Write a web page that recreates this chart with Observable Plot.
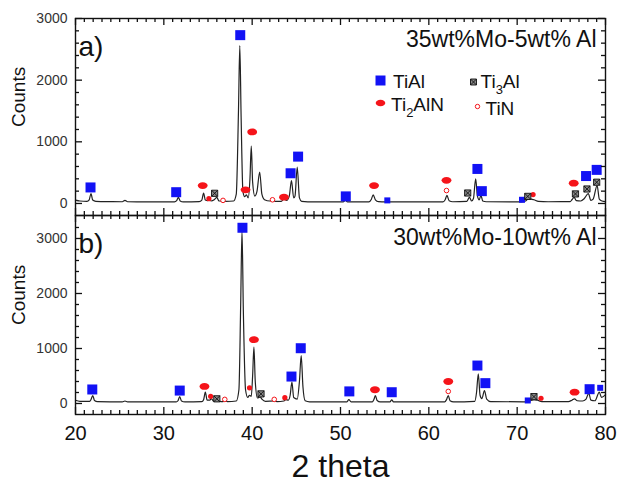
<!DOCTYPE html>
<html><head><meta charset="utf-8">
<script src="https://cdn.jsdelivr.net/npm/d3@7"></script>
<script src="https://cdn.jsdelivr.net/npm/@observablehq/plot@0.6"></script>
<style>
body{margin:0;background:#fff;font-family:"Liberation Sans",Arial,sans-serif}
#wrap{position:relative;width:618px;height:482px;overflow:hidden;background:#fff}
#wrap > svg{position:absolute;left:0}
</style></head><body><div id="wrap"></div>
<script>
// ---------- data ----------
const xMajor = [20, 30, 40, 50, 60, 70, 80];
const yMajor = [0, 1000, 2000, 3000];
const xMinor = [21,22,23,24,25,26,27,28,29,31,32,33,34,35,36,37,38,39,41,42,43,44,45,46,47,48,49,51,52,53,54,55,56,57,58,59,61,62,63,64,65,66,67,68,69,71,72,73,74,75,76,77,78,79];
const yMinorA = [200,400,600,800,1200,1400,1600,1800,2200,2400,2600,2800];
const yMinorB = [200,400,600,800,1200,1400,1600,1800,2200,2400,2600,2800,3200];

const legendNames = ["TiAl", "Ti3Al", "Ti2AlN", "TiN"];
const titleA = "35wt%Mo-5wt% Al";
const titleB = "30wt%Mo-10wt% Al";

// panel a) diffractogram
const curveA_x = [20.0,20.5,21.3,21.55,21.75,21.95,22.3,24,25.3,25.6,25.9,28,31.2,31.45,31.65,31.85,32.2,34.0,34.3,34.5,34.7,34.95,35.15,35.35,35.7,36.0,36.25,36.6,36.8,37.0,37.9,38.2,38.45,38.6,38.75,38.95,39.15,39.35,39.55,39.75,39.9,40.05,40.3,40.55,40.85,41.1,41.4,42.0,42.3,42.6,43.3,43.6,43.9,44.2,44.45,44.7,44.85,45.1,45.35,45.6,47,50.3,50.55,50.8,53.2,53.5,53.7,53.95,54.3,55.1,55.35,55.6,61.6,61.85,62.05,62.3,62.7,64.3,64.6,64.85,65.05,65.3,65.5,65.7,65.9,66.1,66.5,70.5,71.0,71.3,71.6,71.9,72.4,73.5,76.0,76.2,76.45,76.7,77.2,77.6,78.05,78.35,78.6,79.05,79.3,79.6,80];
const curveA_y = [55,40,35,60,160,55,35,30,28,50,28,25,25,45,100,40,25,30,55,170,55,45,80,40,60,100,40,40,55,35,40,150,1500,2560,1400,200,110,140,90,400,930,350,120,200,510,150,60,40,55,35,35,70,50,120,370,90,120,590,90,35,25,25,55,25,25,70,140,60,30,25,40,25,25,60,130,45,28,35,100,40,80,400,120,60,130,40,28,25,45,80,70,60,35,28,30,60,100,45,40,80,160,50,70,290,70,40,30];

// panel b) diffractogram
const curveB_x = [20.0,20.5,21.6,21.75,21.95,22.15,22.5,25.3,25.6,25.9,31.4,31.6,31.8,32.0,32.4,34.3,34.5,34.7,34.9,35.2,35.4,35.6,35.9,36.1,36.3,36.7,36.95,37.2,38.2,38.5,38.7,38.85,39.0,39.25,39.5,39.7,39.9,40.05,40.2,40.35,40.6,40.9,41.1,41.5,42.5,42.8,43.6,43.8,44.1,44.3,44.5,44.7,45.1,45.35,45.55,45.75,46.0,46.5,50.7,50.95,51.2,53.6,53.8,53.95,54.15,54.5,55.6,55.8,56.0,61.8,62.0,62.2,62.4,62.8,65.2,65.4,65.6,65.8,66.0,66.3,66.55,67.0,71.0,71.5,71.9,72.3,72.8,75.8,76.2,76.5,76.8,77.4,77.8,78.1,78.35,78.8,79.3,79.55,80];
const curveB_y = [60,40,40,70,145,55,35,30,45,30,28,50,125,45,28,35,70,205,60,60,90,45,60,80,40,35,50,35,45,250,1800,3145,1700,250,110,150,130,500,1025,400,100,120,80,40,45,35,45,70,60,150,390,110,80,400,870,300,50,30,28,70,30,30,80,145,55,30,30,65,30,30,70,145,50,30,40,200,540,150,90,235,80,35,30,50,70,60,35,35,60,85,50,45,80,190,60,50,205,110,160];

// phase markers, panel a)
const tiAlA_x = [21.7, 31.4, 38.65, 44.35, 45.2, 50.6, 65.5, 66.0, 77.8, 79.0];
const tiAlA_y = [260, 183, 2730, 490, 760, 115, 560, 200, 445, 545];
const tiAlSmallA_x = [55.3, 70.55];
const tiAlSmallA_y = [50, 60];
const ti2AlNA_x = [34.4, 39.25, 40.0, 43.6, 53.8, 62.0, 76.4];
const ti2AlNA_y = [290, 222, 1160, 102, 290, 375, 330];
const ti2AlNSmallA_x = [35.1, 71.8];
const ti2AlNSmallA_y = [78, 145];
const ti3AlA_x = [35.75, 64.4, 71.2, 76.6, 77.9, 79.0];
const ti3AlA_y = [165, 170, 115, 155, 235, 345];
const tiNA_x = [36.7, 42.3, 62.0];
const tiNA_y = [50, 60, 210];

// phase markers, panel b)
const tiAlB_x = [21.9, 31.8, 38.9, 44.45, 45.5, 51.0, 55.8, 65.5, 66.4, 78.2];
const tiAlB_y = [255, 235, 3195, 490, 1005, 220, 205, 690, 370, 260];
const tiAlSmallB_x = [71.2, 79.4];
const tiAlSmallB_y = [55, 285];
const ti2AlNB_x = [34.6, 40.2, 53.9, 62.2, 76.5];
const ti2AlNB_y = [310, 1160, 250, 400, 205];
const ti2AlNSmallB_x = [35.3, 39.7, 43.7, 72.7];
const ti2AlNSmallB_y = [130, 285, 105, 95];
const ti3AlB_x = [36.0, 41.0, 71.9];
const ti3AlB_y = [85, 175, 125];
const tiNB_x = [36.9, 42.5, 62.2];
const tiNB_y = [75, 75, 220];

// ---------- symbols ----------
const sqSym = {draw(c, s){ const r = Math.sqrt(s/Math.PI); c.rect(-r,-r,2*r,2*r); }};
const ellSym = {draw(c, s){ const r = Math.sqrt(s/Math.PI), rx = 1.45*r, ry = r, k = 0.5523;
  c.moveTo(rx,0); c.bezierCurveTo(rx,ry*k,rx*k,ry,0,ry); c.bezierCurveTo(-rx*k,ry,-rx,ry*k,-rx,0);
  c.bezierCurveTo(-rx,-ry*k,-rx*k,-ry,0,-ry); c.bezierCurveTo(rx*k,-ry,rx,-ry*k,rx,0); c.closePath(); }};
const xsqSym = {draw(c, s){ const r = Math.sqrt(s/Math.PI); c.rect(-r,-r,2*r,2*r);
  c.moveTo(-r,-r); c.lineTo(r,r); c.moveTo(r,-r); c.lineTo(-r,r); }};

const BLUE = "#1212f5", RED = "#f5141a";
const pts = (xs, ys) => xs.map((x,i)=>({x, y: ys[i]}));
const ident = d => d;

function markerMarks(m) {
  return [
    Plot.dot(pts(m.tiAl[0], m.tiAl[1]), {x:"x", y:"y", symbol: sqSym, r: 5, fill: BLUE, stroke: "none"}),
    Plot.dot(pts(m.tiAlS[0], m.tiAlS[1]), {x:"x", y:"y", symbol: sqSym, r: 3, fill: BLUE, stroke: "none"}),
    Plot.dot(pts(m.n[0], m.n[1]), {x:"x", y:"y", symbol: ellSym, r: 3.4, fill: RED, stroke: "none"}),
    Plot.dot(pts(m.nS[0], m.nS[1]), {x:"x", y:"y", symbol: "circle", r: 2.6, fill: RED, stroke: "none"}),
    Plot.dot(pts(m.t3[0], m.t3[1]), {x:"x", y:"y", symbol: xsqSym, r: 3.1, fill: "#888", stroke: "#111", strokeWidth: 0.9}),
    Plot.dot(pts(m.tin[0], m.tin[1]), {x:"x", y:"y", symbol: "circle", r: 2.3, fill: "white", stroke: RED, strokeWidth: 1})
  ];
}

// inward ticks on all four sides, as short rules whose length is derived from the scale domains
function tickMarks(xDom, yDom, fw, fh, yMinor) {
  const st = {stroke: "#111", strokeWidth: 1.3};
  const ux = (xDom[1] - xDom[0]) / fw, uy = (yDom[1] - yDom[0]) / fh;
  const MJ = 7, MN = 4;
  return [
    Plot.ruleX(xMajor, {x: ident, y1: () => yDom[0], y2: () => yDom[0] + MJ*uy, ...st}),
    Plot.ruleX(xMinor, {x: ident, y1: () => yDom[0], y2: () => yDom[0] + MN*uy, ...st}),
    Plot.ruleX(xMajor, {x: ident, y1: () => yDom[1], y2: () => yDom[1] - MJ*uy, ...st}),
    Plot.ruleX(xMinor, {x: ident, y1: () => yDom[1], y2: () => yDom[1] - MN*uy, ...st}),
    Plot.ruleY(yMajor, {y: ident, x1: () => xDom[0], x2: () => xDom[0] + MJ*ux, ...st}),
    Plot.ruleY(yMinor, {y: ident, x1: () => xDom[0], x2: () => xDom[0] + MN*ux, ...st}),
    Plot.ruleY(yMajor, {y: ident, x1: () => xDom[1], x2: () => xDom[1] - MJ*ux, ...st}),
    Plot.ruleY(yMinor, {y: ident, x1: () => xDom[1], x2: () => xDom[1] - MN*ux, ...st}),
    Plot.axisY(yMajor, {anchor:"left", tickSize:0, tickPadding:8, fontSize:14, color:"#333", label: null, tickFormat: d3.format("d")})
  ];
}

const style = {fontFamily: '"Liberation Sans", Arial, sans-serif', background: "transparent", overflow: "visible"};
const xDom = [20, 80], yDomA = [-195, 3000], yDomB = [-200, 3418];

// ---------- panel a ----------
const plotA = Plot.plot({
  width: 618, height: 215, marginTop: 18, marginBottom: 0, marginLeft: 75, marginRight: 13,
  style,
  x: {domain: xDom, axis: null},
  y: {domain: yDomA},
  marks: [
    Plot.line(pts(curveA_x, curveA_y), {x:"x", y:"y", stroke:"#222", strokeWidth:1.2, curve:"monotone-x"}),
    ...markerMarks({tiAl:[tiAlA_x,tiAlA_y], tiAlS:[tiAlSmallA_x,tiAlSmallA_y], n:[ti2AlNA_x,ti2AlNA_y], nS:[ti2AlNSmallA_x,ti2AlNSmallA_y], t3:[ti3AlA_x,ti3AlA_y], tin:[tiNA_x,tiNA_y]}),
    ...tickMarks(xDom, yDomA, 530, 197, yMinorA),
    Plot.frame({stroke:"#111", strokeWidth:1.4, fill: "none"}),
    Plot.text(["a)"], {frameAnchor:"top-left", lineAnchor:"bottom", dx:3, dy:37, fontSize:28, fill:"#111"}),
    Plot.text([titleA], {frameAnchor:"top-right", textAnchor:"end", lineAnchor:"bottom", dx:-9, dy:28.5, fontSize:23, fill:"#111"}),
    Plot.text(["Counts"], {frameAnchor:"left", rotate:-90, dx:-57, dy:10, fontSize:19, fill:"#111"}),
    // legend
    Plot.dot([legendNames[0]], {frameAnchor:"top-left", dx:305, dy:62, symbol: sqSym, r:5, fill: BLUE, stroke:"none"}),
    Plot.dot([legendNames[1]], {frameAnchor:"top-left", dx:398, dy:63.5, symbol: xsqSym, r:3, fill:"#888", stroke:"#111", strokeWidth:0.9}),
    Plot.dot([legendNames[2]], {frameAnchor:"top-left", dx:305, dy:84.5, symbol: ellSym, r:3.3, fill: RED, stroke:"none"}),
    Plot.dot([legendNames[3]], {frameAnchor:"top-left", dx:402, dy:88, symbol:"circle", r:2.2, fill:"white", stroke: RED, strokeWidth:1}),
    Plot.text([legendNames[0]], {frameAnchor:"top-left", lineAnchor:"bottom", dx:317.5, dy:69.5, fontSize:19, fill:"#111"}),
    Plot.text([legendNames[1]], {frameAnchor:"top-left", lineAnchor:"bottom", dx:405, dy:69.5, fontSize:19, fill:"#111"}),
    Plot.text([legendNames[2]], {frameAnchor:"top-left", lineAnchor:"bottom", dx:315.5, dy:92, fontSize:19, fill:"#111"}),
    Plot.text([legendNames[3]], {frameAnchor:"top-left", lineAnchor:"bottom", dx:410, dy:96, fontSize:19, fill:"#111"})
  ]
});

// ---------- panel b ----------
const plotB = Plot.plot({
  width: 618, height: 267, marginTop: 0, marginBottom: 68, marginLeft: 75, marginRight: 13,
  style,
  x: {domain: xDom},
  y: {domain: yDomB},
  marks: [
    Plot.line(pts(curveB_x, curveB_y), {x:"x", y:"y", stroke:"#222", strokeWidth:1.2, curve:"monotone-x"}),
    ...markerMarks({tiAl:[tiAlB_x,tiAlB_y], tiAlS:[tiAlSmallB_x,tiAlSmallB_y], n:[ti2AlNB_x,ti2AlNB_y], nS:[ti2AlNSmallB_x,ti2AlNSmallB_y], t3:[ti3AlB_x,ti3AlB_y], tin:[tiNB_x,tiNB_y]}),
    ...tickMarks(xDom, yDomB, 530, 199, yMinorB),
    Plot.axisX(xMajor, {anchor:"bottom", tickSize:0, tickPadding:11, fontSize:20, color:"#111", label: null, tickFormat: d3.format("d")}),
    Plot.frame({stroke:"#111", strokeWidth:1.4, fill: "none"}),
    Plot.text(["b)"], {frameAnchor:"top-left", lineAnchor:"bottom", dx:3, dy:37, fontSize:28, fill:"#111"}),
    Plot.text([titleB], {frameAnchor:"top-right", textAnchor:"end", lineAnchor:"bottom", dx:-9, dy:29, fontSize:23, fill:"#111"}),
    Plot.text(["Counts"], {frameAnchor:"left", rotate:-90, dx:-57, dy:10, fontSize:19, fill:"#111"}),
    Plot.text(["2 theta"], {frameAnchor:"bottom", lineAnchor:"bottom", dy:62, fontSize:32, fill:"#111"})
  ]
});

const wrap = document.getElementById("wrap");
plotA.style.top = "0px";
plotB.style.top = "215px";
wrap.appendChild(plotA);
wrap.appendChild(plotB);

// subscripts in legend labels
d3.select(plotA).selectAll("text").each(function() {
  const t = this.textContent;
  if (t === "Ti3Al") this.innerHTML = 'Ti<tspan dy="6" font-size="13">3</tspan><tspan dy="-6">Al</tspan>';
  if (t === "Ti2AlN") this.innerHTML = 'Ti<tspan dy="6" font-size="13">2</tspan><tspan dy="-6">AlN</tspan>';
});
</script>
</body></html>
